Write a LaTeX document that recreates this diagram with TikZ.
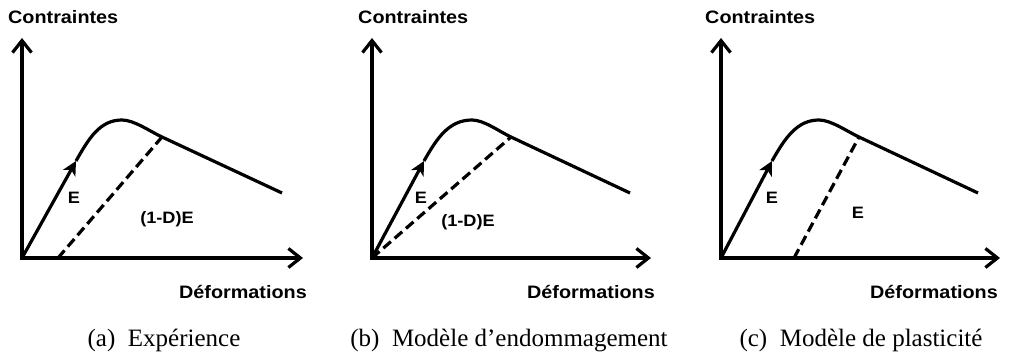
\documentclass[tikz,border=0pt]{standalone}
\usepackage{fontspec}
\setmainfont{Liberation Serif}
\newfontfamily\labfont[FakeStretch=1.1]{Liberation Sans}
\usetikzlibrary{arrows.meta, positioning}

\begin{document}
\begin{tikzpicture}[x=1pt, y=1pt,
  axe/.style      = {line width=3.2pt, line join=miter,
                     {Straight Barb[length=12pt, width=19pt]}-{Straight Barb[length=12pt, width=19pt]}},
  courbe/.style   = {line width=3.2pt, line join=round},
  charge/.style   = {courbe, -{Stealth[length=14pt, width=14pt, inset=4pt]}},
  decharge/.style = {line width=3.2pt, dash pattern=on 10pt off 5pt},
  lab/.style      = {inner sep=0pt, font=\labfont\bfseries\fontsize{18}{21}\selectfont},
  pente/.style    = {inner sep=0pt, anchor=base, font=\labfont\bfseries\fontsize{16.5}{19}\selectfont},
  legende/.style  = {inner sep=0pt, anchor=base, font=\fontsize{25}{30}\selectfont}
]
  \useasboundingbox (0,0) rectangle (1009,358);

  % (a) experience
  \begin{scope}[shift={(22,100)}]
    \coordinate (Oa) at (0,0);
    \coordinate (Ya) at (0,220);
    \coordinate (Xa) at (281,0);
    \coordinate (Aa) at (54,97);
    \coordinate (Pa) at (100,138);
    \coordinate (Ja) at (140,121);
    \coordinate (Fa) at (260,65);
    \coordinate (Ra) at (36,0);
    \draw[axe] (Ya) -- (Oa) -- (Xa);
    \draw[charge] (Oa) -- (Aa);
    \draw[courbe] (Aa) .. controls (67,120) and (78,138) .. (Pa)
                       .. controls (112,138) and (128,126.6) .. (Ja) -- (Fa);
    \draw[decharge] (Ra) -- (Ja);
    \node[lab, anchor=base west] (sigA) at (-14,234.7) {Contraintes};
    \node[lab, anchor=base east] (epsA) at (285,-41) {Déformations};
    \node[pente] (Ea) at (52,54) {E};
    \node[pente] (Ka) at (145,34) {(1-D)E};
    \node[legende] (capA) at (142,-88.7) {(a)\enspace Expérience};
  \end{scope}

  % (b) endommagement
  \begin{scope}[shift={(372,100)}]
    \coordinate (Ob) at (0,0);
    \coordinate (Yb) at (0,220);
    \coordinate (Xb) at (279,0);
    \coordinate (Ab) at (52,97);
    \coordinate (Pb) at (100,138);
    \coordinate (Jb) at (139,121);
    \coordinate (Fb) at (258,65);
    \draw[axe] (Yb) -- (Ob) -- (Xb);
    \draw[charge] (Ob) -- (Ab);
    \draw[courbe] (Ab) .. controls (65,120) and (77,138) .. (Pb)
                       .. controls (112,138) and (127,126.6) .. (Jb) -- (Fb);
    \draw[decharge] (Ob) -- (Jb);
    \node[lab, anchor=base west] (sigB) at (-14,234.7) {Contraintes};
    \node[lab, anchor=base east] (epsB) at (283,-41) {Déformations};
    \node[pente] (Eb) at (49,54) {E};
    \node[pente] (Kb) at (96,31.3) {(1-D)E};
    \node[legende] (capB) at (137,-88.7) {(b)\enspace Modèle d’endommagement};
  \end{scope}

  % (c) plasticite
  \begin{scope}[shift={(721,100)}]
    \coordinate (Oc) at (0,0);
    \coordinate (Yc) at (0,220);
    \coordinate (Xc) at (279,0);
    \coordinate (Ac) at (51,97);
    \coordinate (Pc) at (98,138);
    \coordinate (Jc) at (138,121);
    \coordinate (Fc) at (257,65);
    \coordinate (Rc) at (73,0);
    \draw[axe] (Yc) -- (Oc) -- (Xc);
    \draw[charge] (Oc) -- (Ac);
    \draw[courbe] (Ac) .. controls (64,120) and (76,138) .. (Pc)
                       .. controls (110,138) and (126,126.6) .. (Jc) -- (Fc);
    \draw[decharge] (Rc) -- (Jc);
    \node[lab, anchor=base west] (sigC) at (-16,234.7) {Contraintes};
    \node[lab, anchor=base east] (epsC) at (277,-41) {Déformations};
    \node[pente] (Ec) at (51,54) {E};
    \node[pente] (Kc) at (137,39.7) {E};
    \node[legende] (capC) at (140,-88.7) {(c)\enspace Modèle de plasticité};
  \end{scope}
\end{tikzpicture}
\end{document}
